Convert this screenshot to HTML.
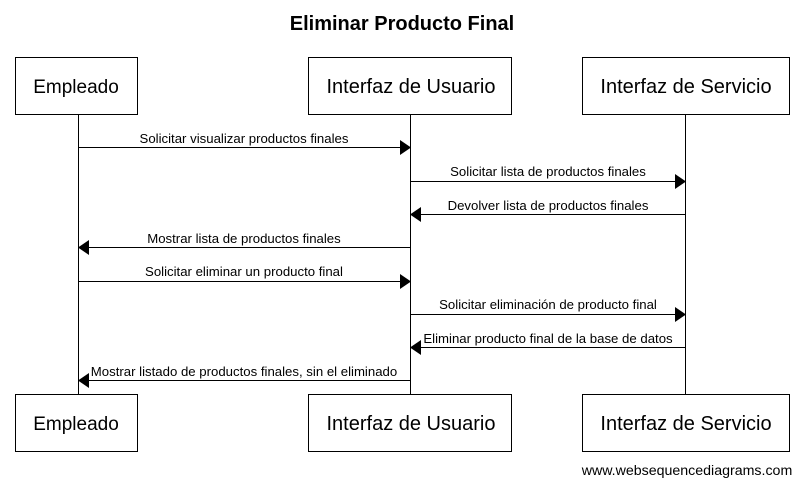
<!DOCTYPE html>
<html><head><meta charset="utf-8"><style>
html,body{margin:0;padding:0;background:#fff;}
svg{display:block;font-family:"Liberation Sans",Arial,sans-serif;}
</style></head><body>
<svg width="803" height="486" viewBox="0 0 803 486" xmlns="http://www.w3.org/2000/svg">
<text x="402" y="30" text-anchor="middle" font-size="20" font-weight="bold">Eliminar Producto Final</text>
<g stroke="#000" stroke-width="1" fill="none">
<line x1="78.5" y1="114" x2="78.5" y2="394"/>
<line x1="410.5" y1="114" x2="410.5" y2="394"/>
<line x1="685.5" y1="114" x2="685.5" y2="394"/>
<rect x="15.5" y="57.5" width="122" height="57" fill="#fff"/>
<rect x="308.5" y="57.5" width="203" height="57" fill="#fff"/>
<rect x="582.5" y="57.5" width="207" height="57" fill="#fff"/>
<rect x="15.5" y="394.5" width="122" height="57" fill="#fff"/>
<rect x="308.5" y="394.5" width="203" height="57" fill="#fff"/>
<rect x="582.5" y="394.5" width="207" height="57" fill="#fff"/>
<line x1="78" y1="147.5" x2="401" y2="147.5"/>
<line x1="411" y1="181.5" x2="676" y2="181.5"/>
<line x1="420" y1="214.5" x2="685" y2="214.5"/>
<line x1="88" y1="247.5" x2="410" y2="247.5"/>
<line x1="78" y1="281.5" x2="401" y2="281.5"/>
<line x1="411" y1="314.5" x2="676" y2="314.5"/>
<line x1="420" y1="347.5" x2="685" y2="347.5"/>
<line x1="88" y1="380.5" x2="410" y2="380.5"/>
</g>
<g fill="#000">
<polygon points="400,140 411,147.5 400,155"/>
<polygon points="675,174 686,181.5 675,189"/>
<polygon points="421,207 410,214.5 421,222"/>
<polygon points="89,240 78,247.5 89,255"/>
<polygon points="400,274 411,281.5 400,289"/>
<polygon points="675,307 686,314.5 675,322"/>
<polygon points="421,340 410,347.5 421,355"/>
<polygon points="89,373 78,380.5 89,388"/>
</g>
<g font-size="20" text-anchor="middle">
<text x="76" y="93" font-size="19">Empleado</text>
<text x="411" y="93">Interfaz de Usuario</text>
<text x="686" y="93">Interfaz de Servicio</text>
<text x="76" y="430" font-size="19">Empleado</text>
<text x="411" y="430">Interfaz de Usuario</text>
<text x="686" y="430">Interfaz de Servicio</text>
</g>
<g font-size="13.2" text-anchor="middle">
<text x="244" y="143">Solicitar visualizar productos finales</text>
<text x="548" y="176">Solicitar lista de productos finales</text>
<text x="548" y="210">Devolver lista de productos finales</text>
<text x="244" y="243">Mostrar lista de productos finales</text>
<text x="244" y="276">Solicitar eliminar un producto final</text>
<text x="548" y="309">Solicitar eliminación de producto final</text>
<text x="548" y="343">Eliminar producto final de la base de datos</text>
<text x="244" y="376">Mostrar listado de productos finales, sin el eliminado</text>
</g>
<text x="687" y="475" font-size="14.2" text-anchor="middle">www.websequencediagrams.com</text>
</svg>
</body></html>
